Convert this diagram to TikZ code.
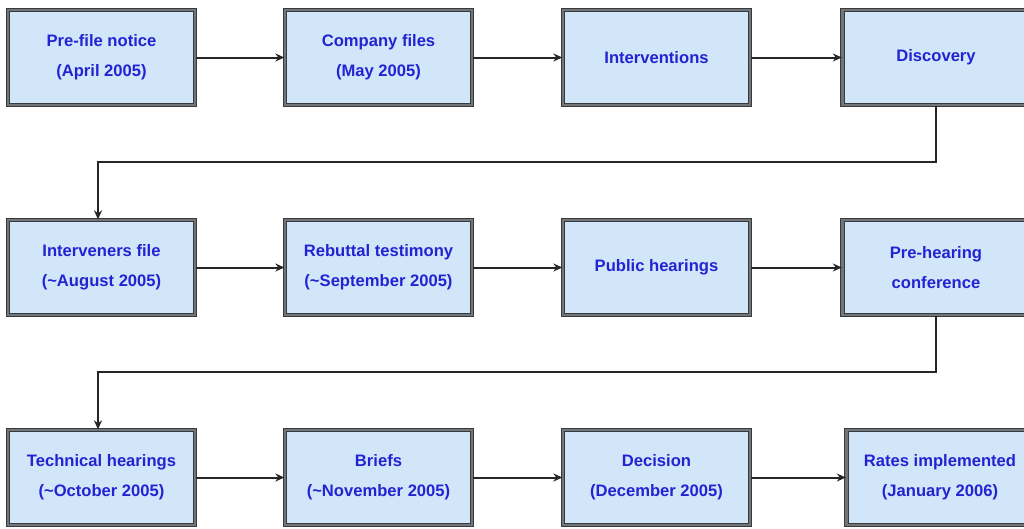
\documentclass[tikz,border=0pt]{standalone}
\usepackage{fontspec}
\setmainfont{Liberation Sans}
\usetikzlibrary{arrows.meta}
\definecolor{boxfill}{HTML}{D2E6FA}
\definecolor{txtblue}{HTML}{2323D2}
\definecolor{edge}{HTML}{505458}
\tikzset{
  stepbox/.style={rectangle, minimum width=187pt, minimum height=95pt, inner sep=0pt,
    fill=boxfill, draw=edge!70!black, line width=1.3pt, double=edge!80, double distance=2.2pt,
    font=\bfseries\fontsize{16.6}{30}\selectfont, text=txtblue, align=center},
  arr/.style={draw=black!85, line width=2pt, -{Stealth[length=9pt,width=8pt]}}
}
\begin{document}
\begin{tikzpicture}[x=1pt,y=-1pt]
\useasboundingbox (0,0) rectangle (1024,528);
\clip (0,0) rectangle (1024,528);
\node[stepbox] (a1) at (101.5,57.5) {Pre-file notice\\(April 2005)};
\node[stepbox] (a2) at (378.5,57.5) {Company files\\(May 2005)};
\node[stepbox] (a3) at (656.5,57.5) {Interventions};
\node[stepbox] (a4) at (936,57.5) {Discovery};
\node[stepbox] (b1) at (101.5,267.5) {Interveners file\\(\textasciitilde August 2005)};
\node[stepbox] (b2) at (378.5,267.5) {Rebuttal testimony\\(\textasciitilde September 2005)};
\node[stepbox] (b3) at (656.5,267.5) {Public hearings};
\node[stepbox] (b4) at (936,267.5) {Pre-hearing\\conference};
\node[stepbox] (c1) at (101.5,477.5) {Technical hearings\\(\textasciitilde October 2005)};
\node[stepbox] (c2) at (378.5,477.5) {Briefs\\(\textasciitilde November 2005)};
\node[stepbox] (c3) at (656.5,477.5) {Decision\\(December 2005)};
\node[stepbox] (c4) at (940,477.5) {Rates implemented\\(January 2006)};
\draw[arr] (a1) -- (a2);
\draw[arr] (a2) -- (a3);
\draw[arr] (a3) -- (a4);
\draw[arr] (b1) -- (b2);
\draw[arr] (b2) -- (b3);
\draw[arr] (b3) -- (b4);
\draw[arr] (c1) -- (c2);
\draw[arr] (c2) -- (c3);
\draw[arr] (c3) -- (c4);
\draw[arr] (a4.south) -- ++(0,56) -| ([xshift=-3.5pt]b1.north);
\draw[arr] (b4.south) -- ++(0,56) -| ([xshift=-3.5pt]c1.north);
\end{tikzpicture}
\end{document}
